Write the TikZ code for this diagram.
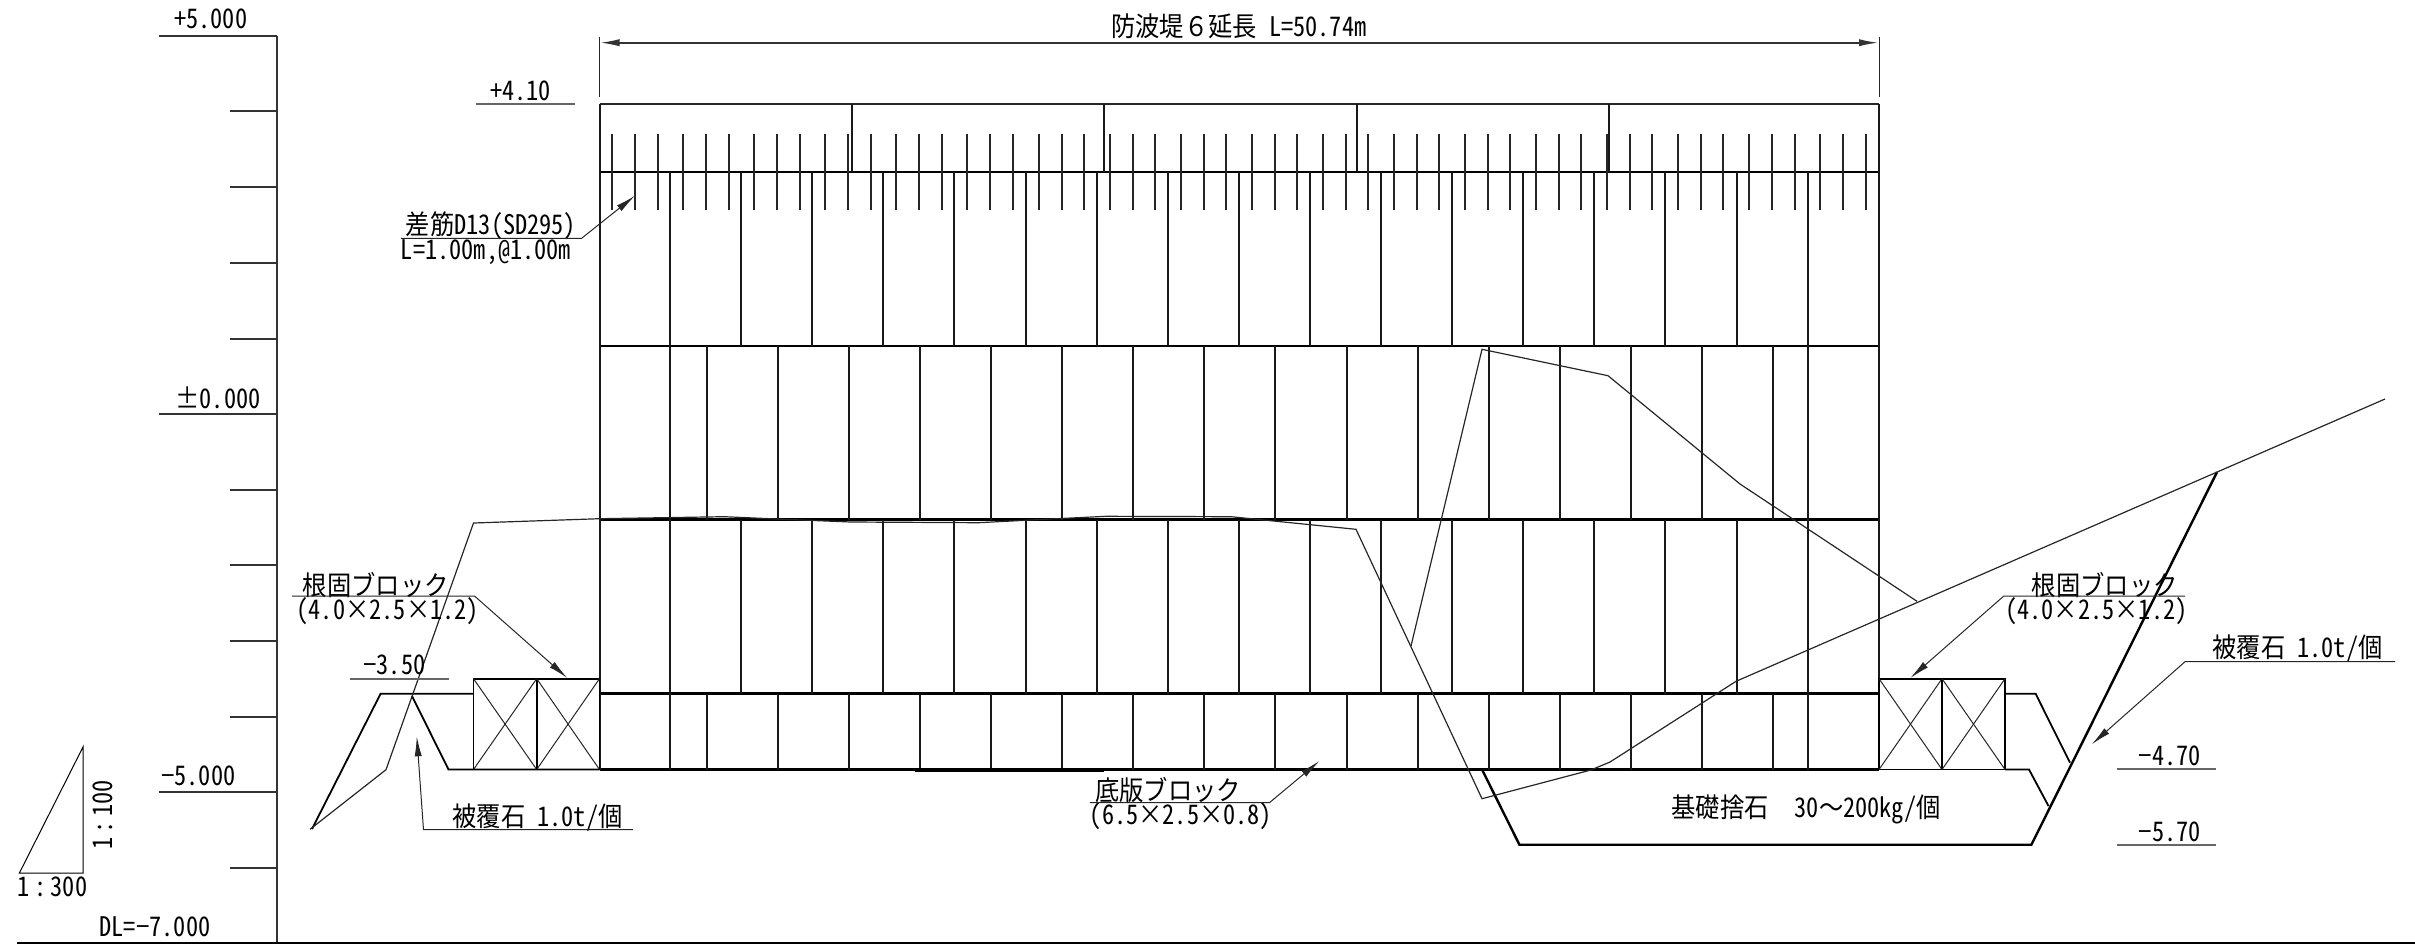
\documentclass[tikz,border=0pt]{standalone}
\usepackage{fontspec}
\setmainfont{Noto Sans CJK JP}[RawFeature=+hwid, FakeStretch=0.9]
\newfontfamily\zenfont{Noto Sans CJK JP}[FakeStretch=0.9]
\usetikzlibrary{arrows.meta}
\tikzset{
  lbl/.style={inner sep=0pt, font=\fontsize{13.5}{14}\selectfont},
  wallline/.style={line width=1pt, black!90},
  rowline/.style={line width=1.3pt},
  rebar/.style={line width=1pt, black!85},
  tickline/.style={line width=1pt, black!80},
  groundline/.style={line width=0.6pt, black!85},
  stoneline/.style={line width=0.9pt},
  lvlline/.style={line width=0.9pt, black!60},
  leaderline/.style={line width=0.5pt, black!85},
}
\begin{document}
\begin{tikzpicture}[x=0.5pt, y=-0.5pt, >={Latex[length=10pt,width=3.6pt]}]
        \useasboundingbox (0,0) rectangle (2415,944);
        % Level scale
        \draw[tickline] (277,35.7) -- (277,943);
        \foreach \ypos in {111.3,187,262.7,338.7,489.5,565.3,641,716.7,867.7}
            \draw[tickline] (229.6,\ypos) -- (277,\ypos);
        \foreach \ypos in {35.7,414,792}
            \draw[tickline] (158.7,\ypos) -- (277,\ypos);
        \draw[line width=0.9pt] (17,943) -- (2415,943);
        \node[lbl] (lvlTop) at (210.8,19) {+5.000};
        \node[lbl] (lvlZero) at (218,398) {±0.000};
        \node[lbl] (lvlLow) at (198.3,775.5) {−5.000};
        \node[lbl] (lvlDL) at (155,927) {DL=−7.000};
        % Slope triangle
        \draw[leaderline, black] (83,747) -- (83,873) -- (19.4,873) -- cycle;
        \node[lbl, rotate=90] (slopeV) at (103.3,815) {1\,:\,100};
        \node[lbl] (slopeH) at (52.4,886.5) {1\,:\,300};
        % Wall
        \draw[rowline, black!85] (599.5,104) -- (1879,104);
        \foreach \ypos in {172,346,519.7,693.7,769.5}
            \draw[rowline] (599.5,\ypos) -- (1879,\ypos);
        \draw[wallline] (599.5,104) -- (599.5,769.5);
        \draw[wallline] (1879,104) -- (1879,769.5);
        \foreach \xpos in {851.7,1104,1356.5,1608.5}
            \draw[wallline] (\xpos,104) -- (\xpos,172);
        % Courses with the long blocks first
        \foreach \ytop/\ybot in {172/346,519.7/693.7}
            \foreach \k in {0,...,16}
                \draw[wallline] ({670+71.1*\k},\ytop) -- ({670+71.1*\k},\ybot);
        % Courses with the half block at both ends
        \foreach \ytop/\ybot in {346/519.7,693.7/769.5} {
            \draw[wallline] (670,\ytop) -- (670,\ybot);
            \draw[wallline] (1808,\ytop) -- (1808,\ybot);
            \foreach \k in {0,...,15}
                \draw[wallline] ({706.6+71.1*\k},\ytop) -- ({706.6+71.1*\k},\ybot);
        }
        % Rebars
        \foreach \k in {0,...,17}
            \foreach \d in {0,23,45.5}
                \draw[rebar] ({612.2+71.05*\k+\d},133.7) -- ({612.2+71.05*\k+\d},210.3);
        % Foot blocks
        \foreach \xa/\xb in {473.5/536.7,536.7/599.5,1879/1942,1942/2005} {
            \draw[stoneline] (\xa,678.7) rectangle (\xb,769.5);
            \draw[leaderline] (\xa,678.7) -- (\xb,769.5);
            \draw[leaderline] (\xb,678.7) -- (\xa,769.5);
        }
        % Armour stone and foundation
        \draw[stoneline] (473.5,693.7) -- (380.6,693.7) -- (312,829);
        \draw[stoneline] (412,696) -- (448.5,769.5) -- (599.5,769.5);
        \draw[stoneline] (2005,693.7) -- (2035.6,693.7) -- (2070,762.7);
        \draw[stoneline] (2005,769.5) -- (2029,769.5) -- (2048.5,806);
        \draw[line width=1.2pt] (1482,769.5) -- (1519.4,844.7) -- (2031.4,844.7) -- (2217,472);
        \draw[line width=2pt] (915,769.5) -- (1103.6,769.5);
        % Sea bed
        \draw[groundline] (310,829.3) -- (386,769.7) -- (473.5,523) -- (599.5,518.7) -- (724.5,516.7)
            -- (777,519) -- (851,522) -- (978.6,522.7) -- (1024.5,520.3) -- (1106,516.3) -- (1231,516.7)
            -- (1356,529.3) -- (1482,798.7) -- (1590.8,770) -- (1610,762) -- (1736,681.3) -- (2385,399);
        \draw[groundline] (1411,646) -- (1482,349.3) -- (1608,375.7) -- (1740,484) -- (1917,601.3);
        % Length dimension
        \draw[leaderline] (599.5,36.7) -- (599.5,96.7);
        \draw[leaderline] (1879,36.7) -- (1879,96.7);
        \draw[<->, tickline] (599.5,42.7) -- (1879,42.7);
        \node[lbl] (lenText) at (1238.8,26.7) {防波堤{\zenfont ６}延長 L=50.74m};
        % Levels
        \draw[lvlline] (475.5,104) -- (574.5,104);
        \node[lbl] (lvlCrown) at (520.4,91) {+4.10};
        \draw[lvlline] (349.5,678.7) -- (448.5,678.7);
        \node[lbl] (lvlFoot) at (394.3,664.5) {−3.50};
        \draw[lvlline] (2117,769.3) -- (2216,769.3);
        \node[lbl] (lvlBase) at (2170,756) {−4.70};
        \draw[lvlline] (2117,844.7) -- (2216,844.7);
        \node[lbl] (lvlMound) at (2170,832) {−5.70};
        \node[lbl] (moundText) at (1806,809) {基礎捨石\hspace{7pt}　30{\zenfont 〜}200kg/個};
        % Leaders
        \coordinate (rebarKnee) at (581.6,238.3);
        \coordinate (rebarTip) at (635,195.7);
        \node[lbl] (rebarA) at (491,226) {差筋D13(SD295)};
        \node[lbl] (rebarB) at (486,252) {L=1.00m,@1.00m};
        \draw[->, leaderline] (401,238.3) -- (rebarKnee) -- (rebarTip);
        \coordinate (footKneeL) at (474.5,596);
        \coordinate (footTipL) at (567.3,678);
        \node[lbl] (footAL) at (375.8,584.7) {根固ブロック};
        \node[lbl] (footBL) at (387.8,611) {(4.0×2.5×1.2)};
        \draw[->, leaderline] (292,596) -- (footKneeL) -- (footTipL);
        \coordinate (footKneeR) at (2003.8,596);
        \coordinate (footTipR) at (1910.3,678);
        \node[lbl] (footAR) at (2104.7,584.7) {根固ブロック};
        \node[lbl] (footBR) at (2096.4,611) {(4.0×2.5×1.2)};
        \draw[->, leaderline] (2185,596) -- (footKneeR) -- (footTipR);
        \coordinate (armKneeL) at (423.5,829.7);
        \coordinate (armTipL) at (416.8,736.3);
        \node[lbl] (armTextL) at (537.5,817.5) {被覆石 1.0t/個};
        \draw[->, leaderline] (633,829.7) -- (armKneeL) -- (armTipL);
        \coordinate (armKneeR) at (2185,661.7);
        \coordinate (armTipR) at (2091.7,744.3);
        \node[lbl] (armTextR) at (2297.5,648.5) {被覆石 1.0t/個};
        \draw[->, leaderline] (2395,661.7) -- (armKneeR) -- (armTipR);
        \coordinate (baseKnee) at (1269.4,802.7);
        \coordinate (baseTip) at (1319.4,761);
        \node[lbl] (baseA) at (1168,790) {底版ブロック};
        \node[lbl] (baseB) at (1181,816.5) {(6.5×2.5×0.8)};
        \draw[->, leaderline] (1089.8,802.7) -- (baseKnee) -- (baseTip);
    \end{tikzpicture}
\end{document}
